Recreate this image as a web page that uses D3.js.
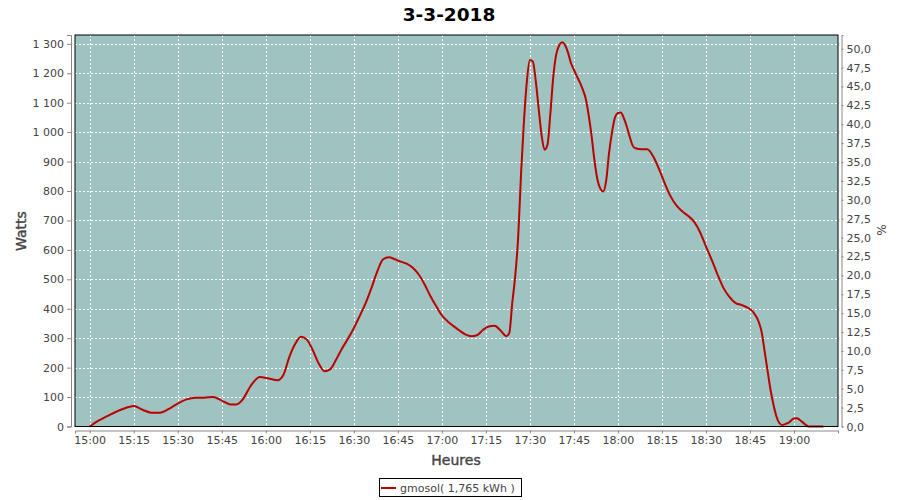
<!DOCTYPE html>
<html><head><meta charset="utf-8">
<script src="https://cdn.jsdelivr.net/npm/d3@7/dist/d3.min.js"></script>
<style>
body{margin:0;background:#fff;}
svg{display:block;font-family:"DejaVu Sans",sans-serif;}
</style></head>
<body><svg id="c" width="900" height="500"></svg>
<script>
const title = "3-3-2018";
const seriesName = "gmosol( 1,765 kWh )";
const minutes = [0,3,6,9,12,15,18,21,24,27,30,33,36,39,42,45,48,50,52,55,58,61,64,66,68,70,72,74,76,78,80,82,84,86,88,90,92,94,96,98,100,102,104,106,108,110,112,114,116,118,120,122,124,126,128,130,132,134,136,138,140,142,143,144,145,146,147,148,149,150,151,152,153,154,155,156,157,158,159,160,161,162,163,164,165,166,167,168,169,170,171,172,173,174,175,176,177,178,179,180,181,182,183,184,185,186,188,190,192,194,196,198,200,202,204,206,208,210,212,214,216,218,220,222,224,226,228,229,230,231,232,233,234,235,236,237,238,240,241,242,244,245,250];
const watts = [0,20,35,50,62,70,57,47,47,60,78,92,98,98,100,88,75,75,90,140,168,163,157,175,235,280,305,295,260,215,188,195,228,265,298,334,375,418,470,527,568,575,568,560,553,540,518,485,445,410,378,357,341,326,313,307,310,328,340,342,326,307,318,420,510,640,860,1040,1175,1245,1240,1175,1080,990,940,957,1065,1190,1265,1295,1305,1295,1270,1235,1212,1190,1170,1145,1115,1060,990,905,840,808,798,835,930,1000,1050,1065,1067,1048,1020,985,955,945,942,942,918,875,825,781,750,730,715,695,660,612,565,515,470,440,420,413,405,390,355,320,255,190,125,75,35,12,5,8,12,27,28,22,6,0,0];
const wattTicks = d3.range(0, 1301, 100);
const pctTicks = d3.range(0, 50.01, 2.5);

const base = new Date(2018, 2, 3, 15, 0);
const t = m => new Date(base.getTime() + m * 60000);
const data = minutes.map((m, i) => ({ t: t(m), v: watts[i] }));

const svg = d3.select("#c");
const L = 75, R = 838, T = 35, B = 426.5;
const x = d3.scaleTime().domain([t(-5), t(255)]).range([L, R]);
const y = d3.scaleLinear().domain([0, 1330]).range([B, T]);
const yR = d3.scaleLinear().domain([0, 51.8]).range([B, T]);

svg.append("rect").attr("x", L).attr("y", T).attr("width", R - L).attr("height", B - T).attr("fill", "#9EC3C1");

const xTicks = d3.timeMinute.every(15).range(t(0), t(255));
const g = svg.append("g").attr("stroke", "#fff").attr("stroke-width", 1).attr("stroke-dasharray", "2,2");
xTicks.forEach(d => g.append("line").attr("x1", Math.round(x(d)) + 0.5).attr("x2", Math.round(x(d)) + 0.5).attr("y1", T).attr("y2", B));
wattTicks.forEach(d => g.append("line").attr("x1", L).attr("x2", R).attr("y1", Math.round(y(d)) + 0.5).attr("y2", Math.round(y(d)) + 0.5));

const line = d3.line().x(d => x(d.t)).y(d => y(d.v)).curve(d3.curveMonotoneX);
svg.append("path").datum(data).attr("d", line).attr("fill", "none").attr("stroke", "#BB0000").attr("stroke-width", 2);

svg.append("rect").attr("x", L).attr("y", T).attr("width", R - L).attr("height", B - T).attr("fill", "none").attr("stroke", "#000").attr("stroke-width", 1);

const fmtW = d => d3.format(",")(d).replace(/,/g, " ");
const fmtP = d => d3.format(".1f")(d).replace(".", ",");

function styleAxis(sel) {
  sel.selectAll(".domain").attr("stroke", "#888");
  sel.selectAll(".tick line").attr("stroke", "#888");
  sel.selectAll("text").attr("fill", "#444").attr("font-size", "11px").attr("font-family", "DejaVu Sans, sans-serif");
}

const ax = svg.append("g").attr("transform", `translate(0,${B + 4})`)
  .call(d3.axisBottom(x).tickValues(xTicks).tickFormat(d3.timeFormat("%H:%M")).tickSizeOuter(0).tickSize(3).tickPadding(3));
styleAxis(ax);
const ay = svg.append("g").attr("transform", `translate(${L - 4},0)`)
  .call(d3.axisLeft(y).tickValues(wattTicks).tickFormat(fmtW).tickSizeOuter(0).tickSize(4).tickPadding(3));
styleAxis(ay);
const ayr = svg.append("g").attr("transform", `translate(${R + 3.5},0)`)
  .call(d3.axisRight(yR).tickValues(pctTicks).tickFormat(fmtP).tickSizeOuter(0).tickSize(2).tickPadding(3));
styleAxis(ayr);

svg.append("text").attr("x", 449).attr("y", 21).attr("text-anchor", "middle").attr("font-size", "18.5px").attr("font-weight", "bold").attr("fill", "#000").text(title);
svg.append("text").attr("x", 456).attr("y", 465).attr("text-anchor", "middle").attr("font-size", "14px").attr("fill", "#444").attr("stroke", "#444").attr("stroke-width", 0.4).text("Heures");
svg.append("text").attr("transform", "translate(25.5,231) rotate(-90)").attr("text-anchor", "middle").attr("font-size", "14px").attr("fill", "#444").attr("stroke", "#444").attr("stroke-width", 0.4).text("Watts");
svg.append("text").attr("transform", "translate(877,230) rotate(90)").attr("text-anchor", "middle").attr("font-size", "12px").attr("fill", "#444").text("%");

const lg = svg.append("g");
lg.append("rect").attr("x", 379.5).attr("y", 478.5).attr("width", 142).attr("height", 18).attr("fill", "#fff").attr("stroke", "#000");
lg.append("line").attr("x1", 381).attr("x2", 396).attr("y1", 488).attr("y2", 488).attr("stroke", "#BB0000").attr("stroke-width", 2);
lg.append("text").attr("x", 400).attr("y", 492).attr("font-size", "11px").attr("fill", "#444").text(seriesName);
</script></body></html>
